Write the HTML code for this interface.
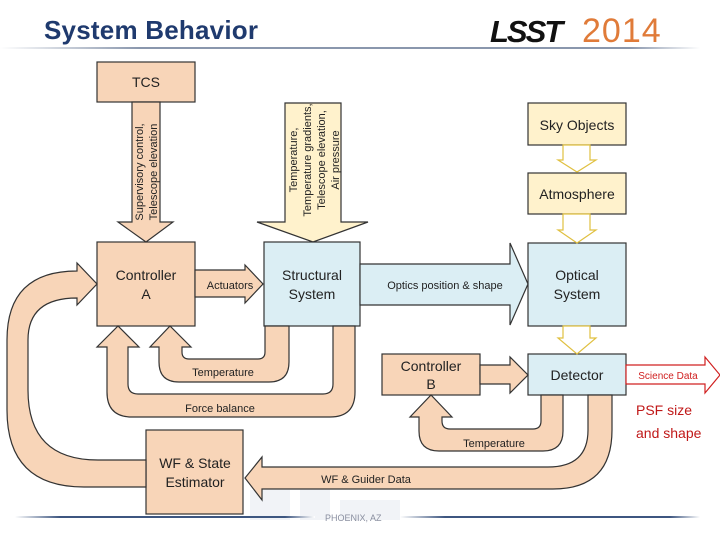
<!DOCTYPE html>
<html><head><meta charset="utf-8"><style>
body{margin:0;width:720px;height:540px;background:#fff;overflow:hidden;font-family:"Liberation Sans",sans-serif}
</style></head><body>
<svg width="720" height="540" viewBox="0 0 720 540" xmlns="http://www.w3.org/2000/svg" font-family="Liberation Sans, sans-serif">
<defs><linearGradient id="ln" x1="0" x2="1"><stop offset="0" stop-color="#fff"/><stop offset="0.2" stop-color="#8a97ad"/><stop offset="0.9" stop-color="#8a97ad"/><stop offset="1" stop-color="#fff"/></linearGradient>
<linearGradient id="ln2" x1="0" x2="1"><stop offset="0" stop-color="#fff"/><stop offset="0.15" stop-color="#3d5680"/><stop offset="0.9" stop-color="#3d5680"/><stop offset="1" stop-color="#fff"/></linearGradient></defs>
<text x="44" y="39" font-size="26" font-weight="bold" fill="#1f3a6e" textLength="214">System Behavior</text>
<rect x="0" y="47" width="700" height="2" fill="url(#ln)"/>
<text x="490" y="42" font-size="31" font-weight="bold" font-style="italic" fill="#111" letter-spacing="-2">LSST</text>
<text x="582" y="42" font-size="34" fill="#e07b39" letter-spacing="1">2014</text>
<g fill="#f1f3f7"><rect x="250" y="490" width="40" height="30"/><rect x="300" y="470" width="30" height="50"/><rect x="340" y="500" width="60" height="20"/></g>
<rect x="15" y="516" width="300" height="2" fill="url(#ln2)"/>
<rect x="400" y="516" width="300" height="2" fill="url(#ln2)"/>
<text x="325" y="521" font-size="9" fill="#8a8fa0">PHOENIX, AZ</text>
<g stroke="#333" stroke-width="1.2">
<rect x="97" y="62" width="98" height="40" fill="#f8d5b8"/>
<rect x="97" y="242" width="98" height="84" fill="#f8d5b8"/>
<rect x="264" y="242" width="96" height="84" fill="#dbeef4"/>
<rect x="528" y="243" width="98" height="83" fill="#dbeef4"/>
<rect x="528" y="103" width="98" height="42" fill="#fff2cc"/>
<rect x="528" y="173" width="98" height="41" fill="#fff2cc"/>
<rect x="528" y="354" width="98" height="41" fill="#dbeef4"/>
<rect x="382" y="354" width="98" height="41" fill="#f8d5b8"/>
<rect x="146" y="430" width="97" height="84" fill="#f8d5b8"/>
<path d="M132,102 H160 V222 H173 L146,242 L118,222 H132 Z" fill="#f8d5b8"/>
<path d="M285,103 H341 V222 H368 L313,242 L257,222 H285 Z" fill="#fff2cc"/>
<path d="M195,270 H245 V265 L263,284 L245,303 V297 H195 Z" fill="#f8d5b8"/>
<path d="M360,264 H510 V243 L528,284 L510,325 V305 H360 Z" fill="#dbeef4"/>
<path d="M480,365 H510 V357 L528,375 L510,393 V384 H480 Z" fill="#f8d5b8"/>
<path d="M289,326 V362 Q289,382 269,382 H179 Q159,382 159,362 V347 H150 L170,326 L191,347 H182 V352 Q182,359 189,359 H258 Q265,359 265,352 V326 Z" fill="#f8d5b8"/>
<path d="M355,326 V392 Q355,417 330,417 H132 Q107,417 107,392 V347 H97 L118,326 L139,347 H128 V384 Q128,394 138,394 H323 Q333,394 333,384 V326 Z" fill="#f8d5b8"/>
<path d="M563,395 V431 Q563,451 543,451 H439 Q419,451 419,431 V417 H410 L431,395 L452,417 H442 V421 Q442,429 450,429 H533 Q541,429 541,421 V395 Z" fill="#f8d5b8"/>
<path d="M612,395 V430 Q612,489 553,489 H262 V500 L245,478 L262,457 V467 H548 Q588,467 588,430 V395 Z" fill="#f8d5b8"/>
<path d="M146,460 H98 Q28,460 28,390 V340 Q28,298 77,298 V305 L97,284 L77,263 V271 Q7,271 7,340 V410 Q7,487 84,487 H146 Z" fill="#f8d5b8"/>
</g>
<g stroke="#e0c040" stroke-width="1.2" fill="#fff">
<path d="M563,145 H590 V160 H596 L577,172 L558,160 H563 Z"/>
<path d="M563,214 H590 V230 H596 L577,243 L558,230 H563 Z"/>
<path d="M563,326 H590 V338 H596 L577,354 L558,338 H563 Z"/>
</g>
<path d="M626,365 H705 V357 L720,375 L705,393 V384 H626 Z" fill="#fff" stroke="#d02020" stroke-width="1.2"/>
<g fill="#222" font-size="14" text-anchor="middle">
<text x="146" y="87">TCS</text>
<text x="146" y="280">Controller</text><text x="146" y="299">A</text>
<text x="312" y="280">Structural</text><text x="312" y="299">System</text>
<text x="577" y="280">Optical</text><text x="577" y="299">System</text>
<text x="577" y="130">Sky Objects</text>
<text x="577" y="199">Atmosphere</text>
<text x="577" y="380">Detector</text>
<text x="431" y="371">Controller</text><text x="431" y="389">B</text>
<text x="195" y="468">WF &amp; State</text><text x="195" y="487">Estimator</text>
</g>
<g fill="#222" font-size="11" text-anchor="middle">
<text x="230" y="289">Actuators</text>
<text x="445" y="289">Optics position &amp; shape</text>
<text x="223" y="376">Temperature</text>
<text x="220" y="412">Force balance</text>
<text x="494" y="447">Temperature</text>
<text x="366" y="483">WF &amp; Guider Data</text>
<text transform="translate(146,172) rotate(-90)"><tspan x="0" y="-3">Supervisory control,</tspan><tspan x="0" y="11">Telescope elevation</tspan></text>
<text transform="translate(314,160) rotate(-90)" font-size="11"><tspan x="0" y="-17">Temperature,</tspan><tspan x="0" y="-3">Temperature gradients,</tspan><tspan x="0" y="11">Telescope elevation,</tspan><tspan x="0" y="25">Air pressure</tspan></text>
</g>
<text x="668" y="379" font-size="10" fill="#d02020" text-anchor="middle">Science Data</text>
<text x="636" y="415" font-size="14" fill="#c01818">PSF size</text>
<text x="636" y="438" font-size="14" fill="#c01818">and shape</text>
</svg>
</body></html>
